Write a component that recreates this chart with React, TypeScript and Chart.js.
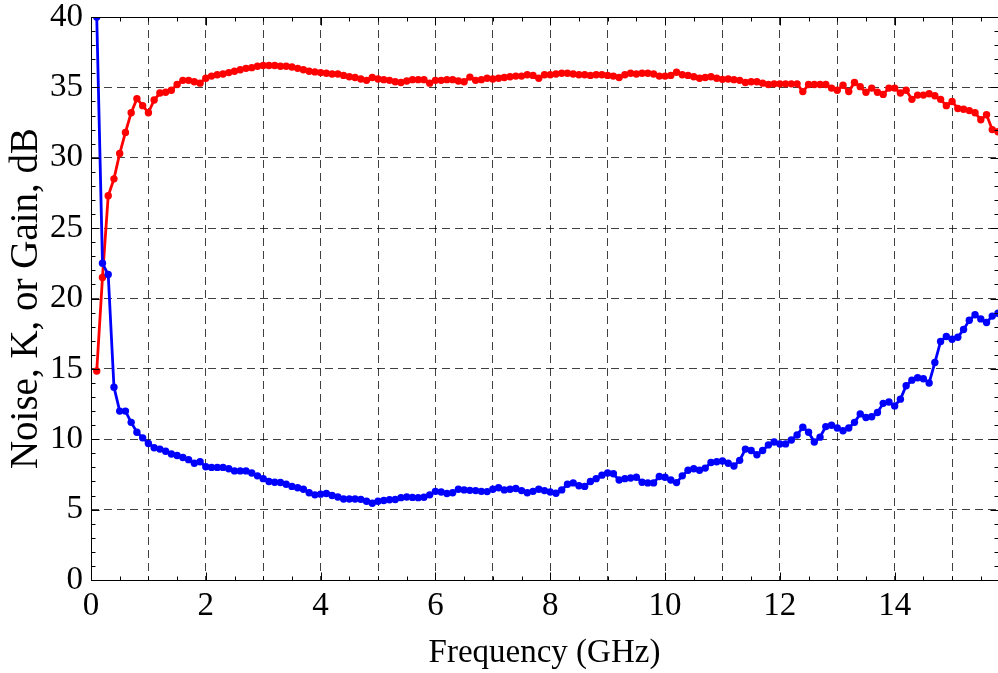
import React, { useEffect, useRef } from 'react';
import { Chart, registerables } from 'chart.js';

Chart.register(...registerables);

// Frequency axis (GHz)
const freqGHz = [
  0.1, 0.2, 0.3, 0.4, 0.5, 0.6, 0.7, 0.8, 0.9, 1.0,
  1.1, 1.2, 1.3, 1.4, 1.5, 1.6, 1.7, 1.8, 1.9, 2.0,
  2.1, 2.2, 2.3, 2.4, 2.5, 2.6, 2.7, 2.8, 2.9, 3.0,
  3.1, 3.2, 3.3, 3.4, 3.5, 3.6, 3.7, 3.8, 3.9, 4.0,
  4.1, 4.2, 4.3, 4.4, 4.5, 4.6, 4.7, 4.8, 4.9, 5.0,
  5.1, 5.2, 5.3, 5.4, 5.5, 5.6, 5.7, 5.8, 5.9, 6.0,
  6.1, 6.2, 6.3, 6.4, 6.5, 6.6, 6.7, 6.8, 6.9, 7.0,
  7.1, 7.2, 7.3, 7.4, 7.5, 7.6, 7.7, 7.8, 7.9, 8.0,
  8.1, 8.2, 8.3, 8.4, 8.5, 8.6, 8.7, 8.8, 8.9, 9.0,
  9.1, 9.2, 9.3, 9.4, 9.5, 9.6, 9.7, 9.8, 9.9, 10.0,
  10.1, 10.2, 10.3, 10.4, 10.5, 10.6, 10.7, 10.8, 10.9, 11.0,
  11.1, 11.2, 11.3, 11.4, 11.5, 11.6, 11.7, 11.8, 11.9, 12.0,
  12.1, 12.2, 12.3, 12.4, 12.5, 12.6, 12.7, 12.8, 12.9, 13.0,
  13.1, 13.2, 13.3, 13.4, 13.5, 13.6, 13.7, 13.8, 13.9, 14.0,
  14.1, 14.2, 14.3, 14.4, 14.5, 14.6, 14.7, 14.8, 14.9, 15.0,
  15.1, 15.2, 15.3, 15.4, 15.5, 15.6, 15.7, 15.8,
];

// Red series: gain (dB)
const gainDb = [
  14.85, 21.5, 27.3, 28.5, 30.3, 31.8, 33.2, 34.2, 33.7, 33.2,
  34.1, 34.6, 34.65, 34.8, 35.2, 35.5, 35.5, 35.4, 35.3, 35.65,
  35.8, 35.9, 35.95, 36.05, 36.15, 36.25, 36.35, 36.4, 36.5, 36.55,
  36.55, 36.55, 36.5, 36.5, 36.45, 36.35, 36.25, 36.15, 36.1, 36.05,
  36.0, 35.95, 35.95, 35.85, 35.75, 35.7, 35.6, 35.5, 35.7, 35.6,
  35.55, 35.5, 35.4, 35.35, 35.45, 35.55, 35.55, 35.55, 35.3, 35.5,
  35.5, 35.55, 35.55, 35.45, 35.4, 35.73, 35.5, 35.55, 35.65, 35.6,
  35.65, 35.7, 35.75, 35.8, 35.8, 35.9, 35.85, 35.65, 35.9, 35.9,
  35.95, 36.0, 36.0, 35.95, 35.9, 35.9, 35.85, 35.9, 35.9, 35.85,
  35.8, 35.7, 35.9, 36.0, 35.95, 36.0, 36.0, 35.95, 35.8, 35.8,
  35.85, 36.07, 35.9, 35.85, 35.75, 35.65, 35.7, 35.75, 35.65, 35.57,
  35.6, 35.55, 35.5, 35.35, 35.4, 35.4, 35.3, 35.2, 35.25, 35.25,
  35.25, 35.25, 35.25, 34.7, 35.2, 35.2, 35.2, 35.2, 34.95, 34.8,
  35.15, 34.7, 35.35, 35.05, 34.65, 34.95, 34.65, 34.5, 34.95, 34.95,
  34.6, 34.8, 34.15, 34.45, 34.45, 34.55, 34.4, 34.15, 33.7, 34.0,
  33.5, 33.45, 33.35, 33.2, 32.7, 33.05, 32.0, 31.85,
];

// Blue series: noise (dB)
const noiseDb = [
  40.0, 22.5, 21.7, 13.7, 12.0, 12.0, 11.2, 10.5, 10.1, 9.7,
  9.4, 9.3, 9.15, 8.95, 8.85, 8.7, 8.55, 8.3, 8.4, 8.05,
  8.0, 8.0, 8.0, 7.9, 7.75, 7.75, 7.75, 7.6, 7.4, 7.2,
  7.0, 6.95, 6.93, 6.8, 6.65, 6.55, 6.45, 6.2, 6.05, 6.1,
  6.15, 6.0, 5.9, 5.75, 5.75, 5.75, 5.73, 5.6, 5.45, 5.6,
  5.65, 5.7, 5.72, 5.85, 5.9, 5.87, 5.85, 5.88, 6.05, 6.3,
  6.25, 6.15, 6.2, 6.45, 6.4, 6.37, 6.35, 6.3, 6.28, 6.45,
  6.55, 6.4, 6.45, 6.5, 6.35, 6.2, 6.3, 6.45, 6.35, 6.25,
  6.16, 6.4, 6.8, 6.9, 6.7, 6.65, 7.0, 7.2, 7.45, 7.6,
  7.55, 7.1, 7.2, 7.25, 7.3, 6.95, 6.9, 6.9, 7.35, 7.3,
  7.1, 6.92, 7.4, 7.8, 7.9, 7.8, 7.95, 8.35, 8.4, 8.45,
  8.3, 8.1, 8.5, 9.3, 9.2, 8.9, 9.2, 9.6, 9.8, 9.66,
  9.67, 9.95, 10.3, 10.85, 10.5, 9.8, 10.15, 10.9, 11.0, 10.8,
  10.6, 10.8, 11.2, 11.8, 11.55, 11.6, 11.9, 12.55, 12.65, 12.37,
  12.85, 13.8, 14.2, 14.37, 14.3, 14.0, 15.45, 16.95, 17.3, 17.1,
  17.25, 17.8, 18.45, 18.85, 18.55, 18.3, 18.75, 18.95,
];

const xLabelValues = [0, 2, 4, 6, 8, 10, 12, 14];
const yLabelValues = [0, 5, 10, 15, 20, 25, 30, 35, 40];
const xMinorValues = [0.5, 1, 1.5, 2.5, 3, 3.5, 4.5, 5, 5.5, 6.5, 7, 7.5, 8.5, 9, 9.5, 10.5, 11, 11.5, 12.5, 13, 13.5, 14.5, 15, 15.5];
const yMinorValues = [1, 2, 3, 4, 6, 7, 8, 9, 11, 12, 13, 14, 16, 17, 18, 19, 21, 22, 23, 24, 26, 27, 28, 29, 31, 32, 33, 34, 36, 37, 38, 39];

const xTitle = 'Frequency (GHz)';
const yTitle = 'Noise, K, or Gain, dB';

const FONT = "'Liberation Serif', 'Times New Roman', serif";

const frameTicks = {
  id: 'frameTicks',
  afterDraw(chart: any) {
    const { ctx, chartArea: a } = chart;
    const xs = chart.scales.x;
    const ys = chart.scales.y;
    ctx.save();
    ctx.strokeStyle = '#000';
    ctx.lineWidth = 1;
    ctx.beginPath();
    const L = Math.round(a.left) + 0.5;
    const R = Math.round(a.right) + 0.5;
    const T = Math.round(a.top) + 0.5;
    const B = Math.round(a.bottom) + 0.5;
    ctx.moveTo(L, T); ctx.lineTo(R, T); ctx.lineTo(R, B); ctx.lineTo(L, B); ctx.closePath();
    const xTick = (v: number, len: number) => {
      const px = Math.round(xs.getPixelForValue(v)) + 0.5;
      ctx.moveTo(px, B); ctx.lineTo(px, B - len);
      ctx.moveTo(px, T); ctx.lineTo(px, T + len);
    };
    const yTick = (v: number, len: number) => {
      const py = Math.round(ys.getPixelForValue(v)) + 0.5;
      ctx.moveTo(L, py); ctx.lineTo(L + len, py);
      ctx.moveTo(R, py); ctx.lineTo(R - len, py);
    };
    xLabelValues.forEach((v) => xTick(v, 8));
    xMinorValues.forEach((v) => xTick(v, 4));
    yLabelValues.forEach((v) => yTick(v, 8));
    yMinorValues.forEach((v) => yTick(v, 4));
    ctx.stroke();
    ctx.restore();
  },
};

export default function App() {
  const ref = useRef<HTMLCanvasElement | null>(null);

  useEffect(() => {
    if (!ref.current) return;
    const mk = (ys: number[]) => freqGHz.map((f, i) => ({ x: f, y: ys[i] }));
    const chart = new Chart(ref.current, {
      type: 'scatter',
      data: {
        datasets: [
          {
            label: 'Noise',
            data: mk(noiseDb),
            showLine: true,
            borderColor: '#0000ff',
            backgroundColor: '#0000ff',
            borderWidth: 2.8,
            pointRadius: 3.7,
            pointBorderWidth: 0,
            pointHoverRadius: 3.7,
          },
          {
            label: 'Gain',
            data: mk(gainDb),
            showLine: true,
            borderColor: '#ff0000',
            backgroundColor: '#ff0000',
            borderWidth: 2.8,
            pointRadius: 3.7,
            pointBorderWidth: 0,
            pointHoverRadius: 3.7,
          },
        ],
      },
      options: {
        responsive: false,
        animation: false,
        events: [],
        layout: { autoPadding: false, padding: { top: 17, right: 0, left: 0, bottom: 0 } },
        plugins: { legend: { display: false }, tooltip: { enabled: false } },
        scales: {
          x: {
            type: 'linear',
            min: 0,
            max: 15.8,
            afterFit: (s: any) => { s.height = 93; s.paddingLeft = 0; s.paddingRight = 0; },
            afterBuildTicks: (s: any) => {
              const t = [];
              for (let v = 0; v <= 15; v++) t.push({ value: v });
              s.ticks = t;
            },
            ticks: {
              autoSkip: false,
              maxRotation: 0,
              padding: 7,
              color: '#000',
              font: { family: FONT, size: 33 },
              callback: (v: any) => (xLabelValues.includes(Number(v)) ? String(v) : ''),
            },
            grid: {
              color: 'rgba(0,0,0,0.75)',
              lineWidth: 1,
              drawTicks: false,
            },
            border: { display: false, dash: [8, 5] },
            title: {
              display: true,
              text: xTitle,
              color: '#000',
              font: { family: FONT, size: 33 },
              padding: { top: 0, bottom: 0 },
            },
          },
          y: {
            type: 'linear',
            min: 0,
            max: 40,
            afterFit: (s: any) => { s.width = 91; s.paddingTop = 0; s.paddingBottom = 0; },
            ticks: {
              stepSize: 5,
              padding: 8,
              color: '#000',
              font: { family: FONT, size: 33 },
              callback: (v: any) => String(v),
            },
            grid: {
              color: 'rgba(0,0,0,0.75)',
              lineWidth: 1,
              drawTicks: false,
            },
            border: { display: false, dash: [8, 5] },
            title: {
              display: true,
              text: yTitle,
              color: '#000',
              font: { family: FONT, size: 39 },
              padding: { top: 3, bottom: 0 },
            },
          },
        },
      },
      plugins: [frameTicks],
    } as any);
    return () => chart.destroy();
  }, []);

  return (
    <div style={{ position: 'absolute', left: 0, top: 0, width: 998, height: 673, background: '#fff' }}>
      <canvas ref={ref} width={998} height={673} style={{ display: 'block', width: 998, height: 673 }} />
    </div>
  );
}
